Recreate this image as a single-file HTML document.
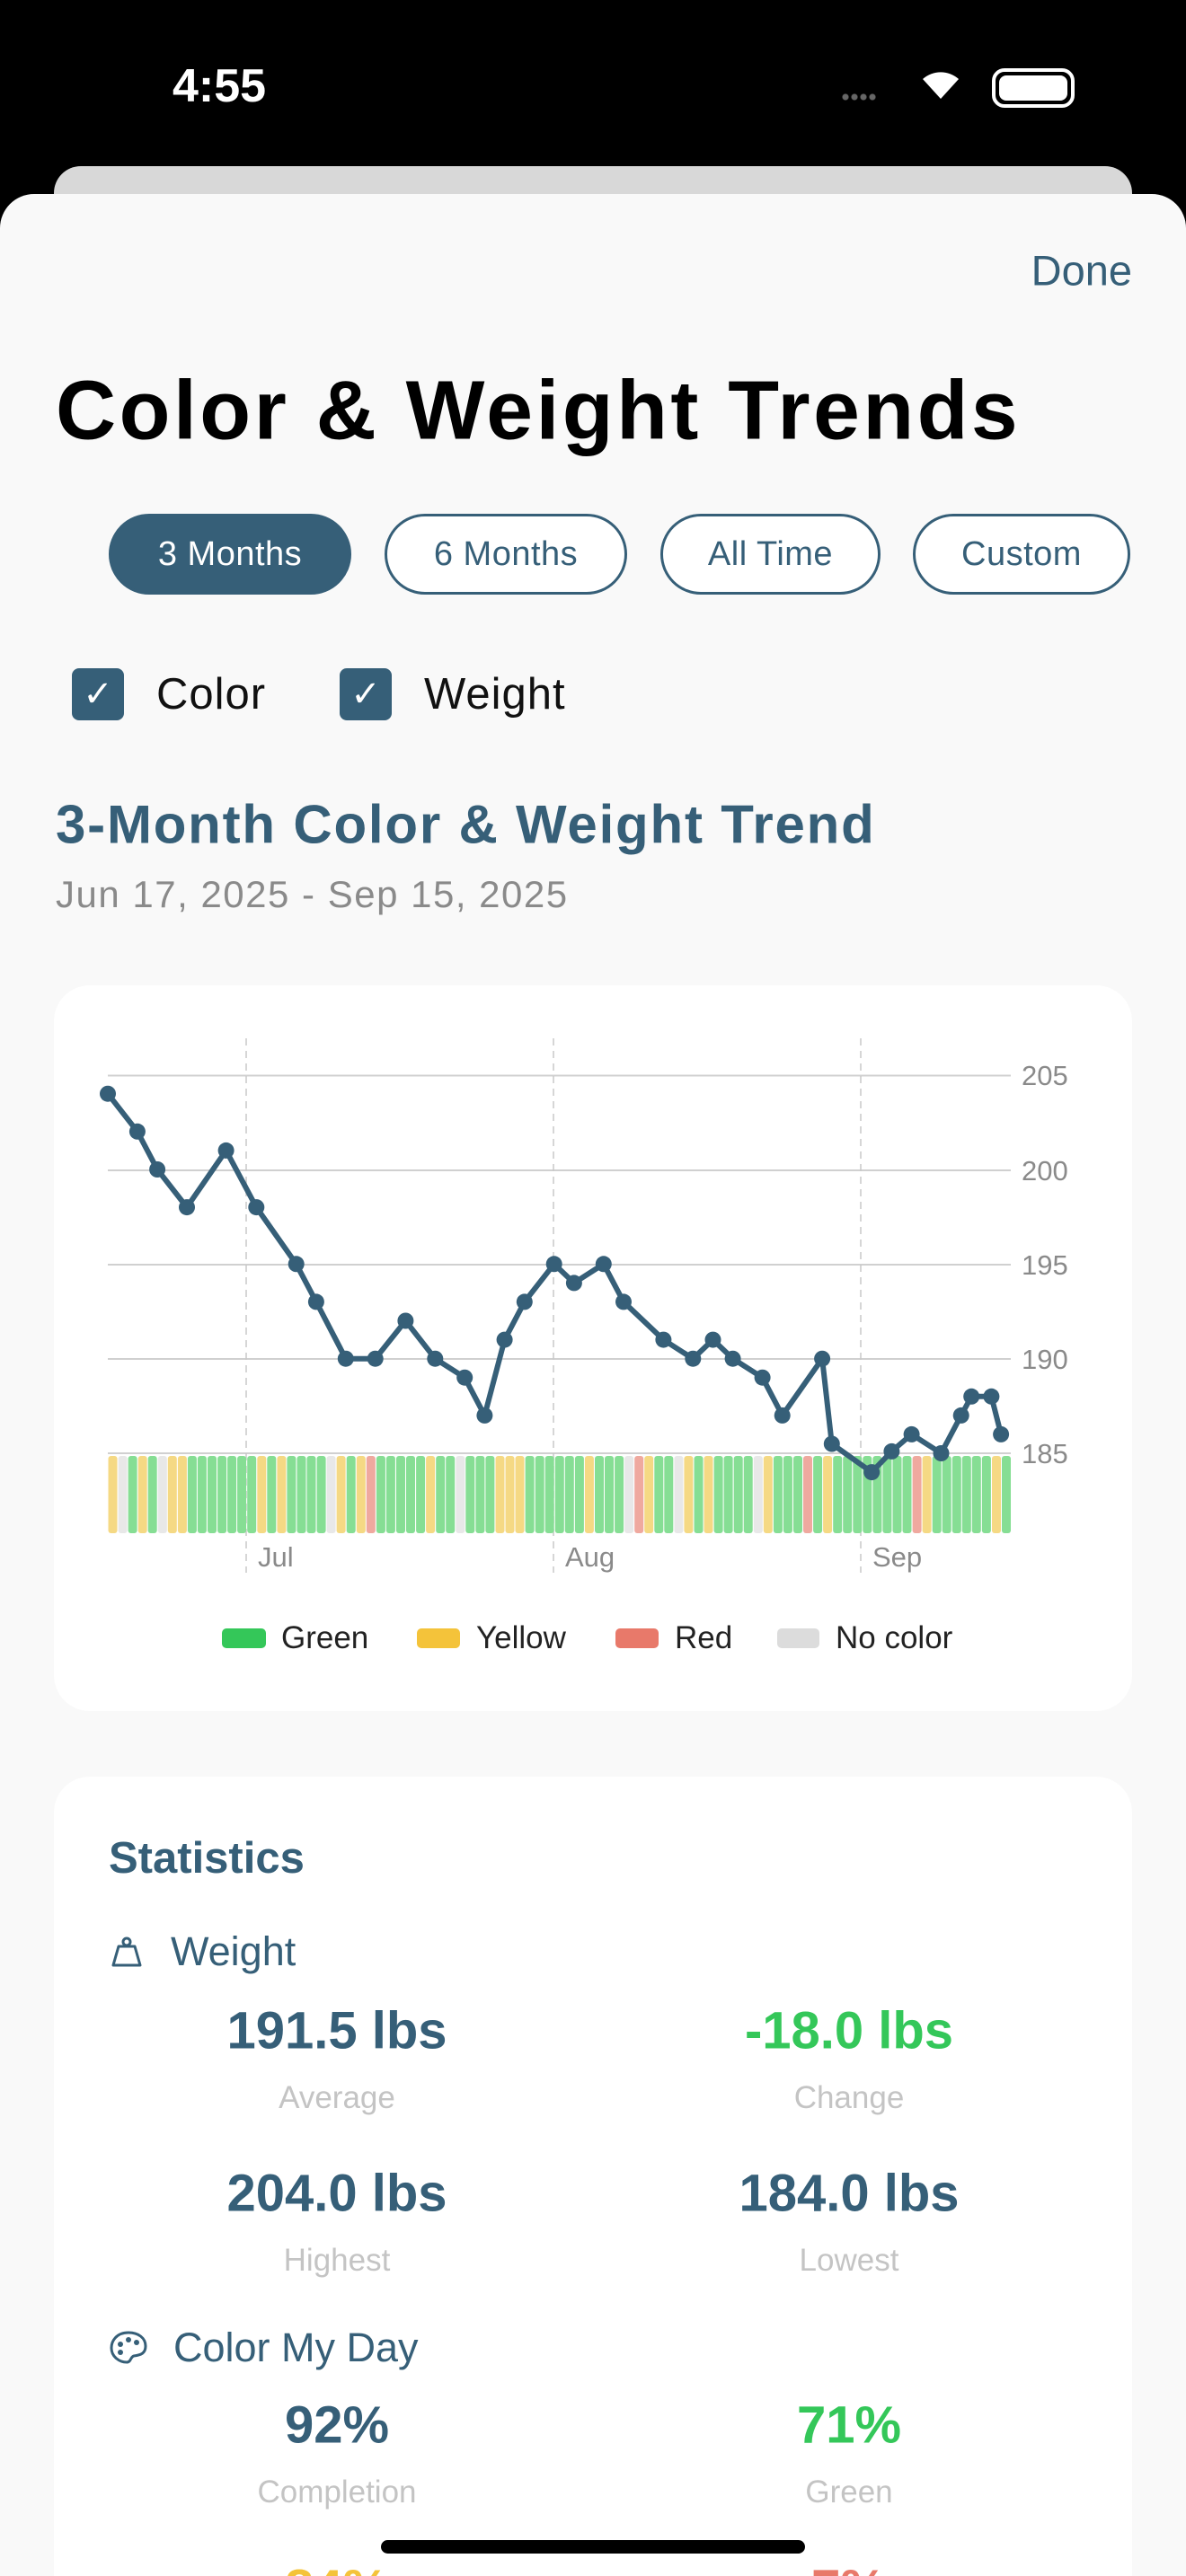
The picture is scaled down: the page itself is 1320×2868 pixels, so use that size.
<!DOCTYPE html>
<html style="overflow:hidden;height:2868px"><head><meta charset="utf-8">
<style>
*{margin:0;padding:0;box-sizing:border-box}
html,body{width:1320px;height:2868px;overflow:hidden}
body{background:#000;font-family:"Liberation Sans",sans-serif}
#w{position:relative;width:1320px;height:2868px;overflow:hidden}
.a{position:absolute;white-space:nowrap}
.btn{position:absolute;top:572px;height:90px;border:3px solid #365F78;border-radius:45px;color:#365F78;font-size:38px;letter-spacing:0.5px;display:flex;align-items:center;justify-content:center;background:#fff}
.cb{position:absolute;top:744px;width:58px;height:58px;background:#365F78;border-radius:8px;color:#fff;font-size:40px;display:flex;align-items:center;justify-content:center}
.val{position:absolute;width:500px;text-align:center;font-weight:bold;font-size:58px;color:#365F78;transform:translateY(-50%)}
.lbl{position:absolute;width:500px;text-align:center;font-size:35px;color:#c4c4c4;transform:translateY(-50%)}
.sw{position:absolute;top:1813px;height:22px;border-radius:5px}
.lg{position:absolute;top:1824px;transform:translateY(-50%);font-size:35px;color:#222}
</style></head><body><div id="w">
<div class="a" style="left:192px;top:66px;font-size:52px;font-weight:600;color:#fff">4:55</div>
<div class="a" style="left:936px;top:104px;width:40px;height:8px;background:radial-gradient(circle,#666 3px,transparent 4px) 0 0/10px 8px"></div>
<svg class="a" style="left:1022px;top:74px" width="50" height="40" viewBox="0 0 50 40"><path d="M25 36 L5 14 A30 30 0 0 1 45 14 Z" fill="#fff"/></svg>
<div class="a" style="left:1104px;top:76px;width:92px;height:44px;border:4px solid #fff;border-radius:14px;padding:4px"><div style="width:100%;height:100%;background:#fff;border-radius:8px"></div></div>
<div class="a" style="left:60px;top:185px;width:1200px;height:80px;background:#d8d8d8;border-radius:30px"></div>
<div class="a" style="left:0;top:216px;width:1320px;height:2652px;background:#F9F9F9;border-radius:38px 38px 0 0"></div>
<div class="a" style="right:60px;top:301px;transform:translateY(-50%);font-size:47px;color:#365F78">Done</div>
<div class="a" style="left:62px;top:457px;transform:translateY(-50%);font-size:93px;font-weight:bold;color:#000;letter-spacing:3.5px">Color &amp; Weight Trends</div>
<div class="btn" style="left:121px;width:270px;background:#365F78;color:#fff">3 Months</div>
<div class="btn" style="left:428px;width:270px">6 Months</div>
<div class="btn" style="left:735px;width:245px">All Time</div>
<div class="btn" style="left:1016px;width:242px">Custom</div>
<div class="cb" style="left:80px">✓</div>
<div class="a" style="left:174px;top:773px;transform:translateY(-50%);font-size:49px;letter-spacing:1px;color:#111">Color</div>
<div class="cb" style="left:378px">✓</div>
<div class="a" style="left:472px;top:773px;transform:translateY(-50%);font-size:49px;letter-spacing:1px;color:#111">Weight</div>
<div class="a" style="left:62px;top:918px;transform:translateY(-50%);font-size:60px;font-weight:600;color:#365F78;letter-spacing:1.8px">3-Month Color &amp; Weight Trend</div>
<div class="a" style="left:62px;top:996px;transform:translateY(-50%);font-size:42px;color:#8a8a8a;letter-spacing:1.5px">Jun 17, 2025 - Sep 15, 2025</div>
<div class="a" style="left:60px;top:1097px;width:1200px;height:808px;background:#fff;border-radius:40px"></div>
<svg id="ch" class="a" style="left:0;top:0" width="1320" height="1900">
<g stroke="#d0d0d0" stroke-width="2">
<line x1="120" x2="1125" y1="1197.5" y2="1197.5"/><line x1="120" x2="1125" y1="1303" y2="1303"/><line x1="120" x2="1125" y1="1408" y2="1408"/><line x1="120" x2="1125" y1="1513" y2="1513"/><line x1="120" x2="1125" y1="1618" y2="1618"/></g>
<g stroke="#c8c8c8" stroke-width="1.5" stroke-dasharray="8,6">
<line x1="274" x2="274" y1="1156" y2="1751"/><line x1="616" x2="616" y1="1156" y2="1751"/><line x1="958" x2="958" y1="1156" y2="1751"/></g>
<g font-size="31" fill="#8a8a8a" font-family="Liberation Sans,sans-serif">
<text x="1137" y="1208">205</text><text x="1137" y="1314">200</text><text x="1137" y="1419">195</text><text x="1137" y="1524">190</text><text x="1137" y="1629">185</text>
<text x="287" y="1744">Jul</text><text x="629" y="1744">Aug</text><text x="971" y="1744">Sep</text></g>
<g id="bars"></g><g id="ln"></g>
</svg>
<div class="sw" style="left:247px;width:49px;background:#34C759"></div><div class="lg" style="left:313px">Green</div>
<div class="sw" style="left:464px;width:48px;background:#F4C33A"></div><div class="lg" style="left:530px">Yellow</div>
<div class="sw" style="left:685px;width:48px;background:#E8796A"></div><div class="lg" style="left:751px">Red</div>
<div class="sw" style="left:865px;width:47px;background:#DCDCDC"></div><div class="lg" style="left:930px">No color</div>
<div class="a" style="left:60px;top:1978px;width:1200px;height:890px;background:#fff;border-radius:40px 40px 0 0"></div>
<div class="a" style="left:121px;top:2069px;transform:translateY(-50%);font-size:49px;font-weight:600;color:#365F78">Statistics</div>
<svg class="a" style="left:122px;top:2155px" width="38" height="36" viewBox="0 0 38 36"><circle cx="19" cy="7" r="4" fill="none" stroke="#365F78" stroke-width="3"/><path d="M10 12 H28 L34 33 H4 Z" fill="none" stroke="#365F78" stroke-width="3" stroke-linejoin="round"/></svg>
<div class="a" style="left:190px;top:2173px;transform:translateY(-50%);font-size:45px;color:#365F78">Weight</div>
<div class="val" style="left:125px;top:2261px">191.5 lbs</div>
<div class="val" style="left:695px;top:2261px;color:#34C759">-18.0 lbs</div>
<div class="lbl" style="left:125px;top:2336px">Average</div>
<div class="lbl" style="left:695px;top:2336px">Change</div>
<div class="val" style="left:125px;top:2442px">204.0 lbs</div>
<div class="val" style="left:695px;top:2442px">184.0 lbs</div>
<div class="lbl" style="left:125px;top:2517px">Highest</div>
<div class="lbl" style="left:695px;top:2517px">Lowest</div>
<svg class="a" style="left:121px;top:2594px" width="44" height="40" viewBox="0 0 44 40"><path d="M22 3 C8 3 3 13 3 20 C3 30 12 36 20 36 C25 36 24 30 28 29 C36 28 41 26 41 18 C41 9 33 3 22 3 Z" fill="none" stroke="#365F78" stroke-width="3"/><circle cx="13" cy="16" r="3" fill="#365F78"/><circle cx="22" cy="11" r="3" fill="#365F78"/><circle cx="31" cy="14" r="3" fill="#365F78"/><circle cx="13" cy="25" r="3" fill="#365F78"/></svg>
<div class="a" style="left:193px;top:2614px;transform:translateY(-50%);font-size:45px;color:#365F78">Color My Day</div>
<div class="val" style="left:125px;top:2700px">92%</div>
<div class="val" style="left:695px;top:2700px;color:#34C759">71%</div>
<div class="lbl" style="left:125px;top:2775px">Completion</div>
<div class="lbl" style="left:695px;top:2775px">Green</div>
<div class="val" style="left:125px;top:2882px;color:#F4C33A">84%</div>
<div class="val" style="left:695px;top:2882px;color:#E8796A">7%</div>
<div class="a" style="left:424px;top:2828px;width:472px;height:15px;background:#000;border-radius:8px"></div>
</div>
<script>
var s="YNGYGNYYGGGGGGGYGYGGGGNYGYRGGGGGYGGNGGGYYYGGGGGGYGGGNRYGGNYGYGGGGNYGGGRGYGGGGGGGGRYGGGGGGYG";
var col={G:"#86DE94",Y:"#F5D984",R:"#EFA99F",N:"#E8E8E8"};
var h="";
for(var i=0;i<s.length;i++){var x=120+i*11.05;h+='<rect x="'+(x+0.5).toFixed(1)+'" y="1621" width="10" height="86" rx="3" fill="'+col[s[i]]+'"/>';}
document.getElementById("bars").innerHTML=h;
var p=[[78,204],[121,202],[150,200],[193,198],[250,201],[294,198],[352,195],[381,193],[424,190],[467,190],[511,192],[554,190],[597,189],[626,187],[655,191],[684,193],[727,195],[756,194],[799,195],[828,193],[886,191],[929,190],[958,191],[987,190],[1030,189],[1059,187],[1117,190],[1131,185.5],[1189,184],[1218,185.1],[1247,186],[1290,185],[1319,187],[1334,188],[1363,188],[1377,186]];
var pts=p.map(function(a){return[120+(a[0]-78)/1.3067,1618-(a[1]-185)*21.07]});
var g='<polyline fill="none" stroke="#365F78" stroke-width="6" stroke-linejoin="round" points="'+pts.map(function(q){return q[0].toFixed(1)+","+q[1].toFixed(1)}).join(" ")+'"/>';
pts.forEach(function(q){g+='<circle cx="'+q[0].toFixed(1)+'" cy="'+q[1].toFixed(1)+'" r="9" fill="#365F78"/>'});
document.getElementById("ln").innerHTML=g;
</script>
</body></html>
